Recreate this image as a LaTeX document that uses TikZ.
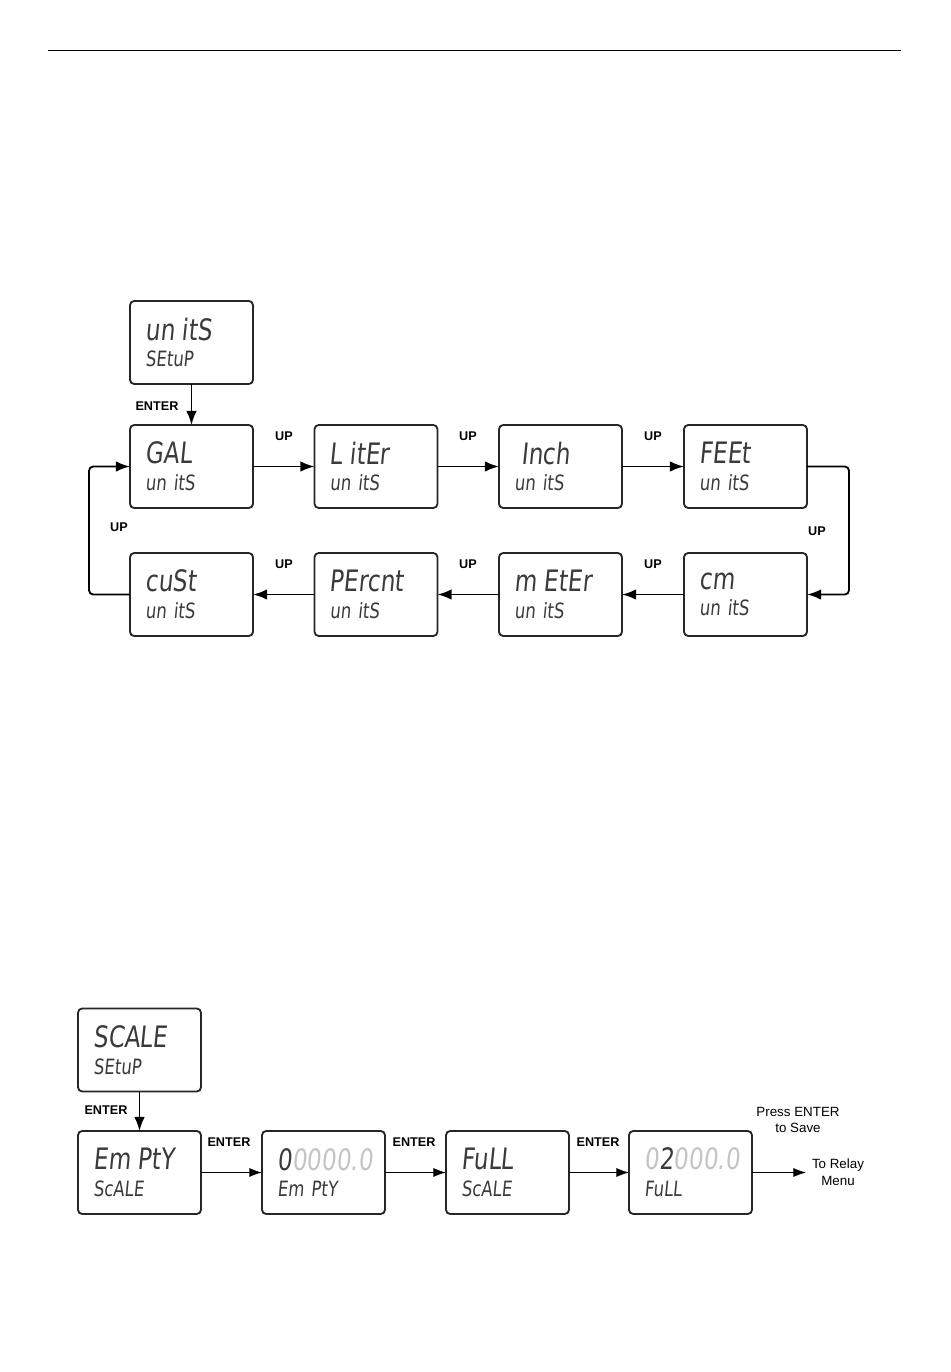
\documentclass[tikz,border=0pt]{standalone}
\usepackage{fontspec}
\setmainfont{Liberation Sans}
\newfontfamily\lcdfont[FakeSlant=0.1,FakeStretch=0.78]{DejaVu Sans}
\usetikzlibrary{arrows.meta}
\definecolor{segon}{HTML}{3A3A3A}
\definecolor{segoff}{HTML}{C4C4C4}
\newcommand{\lcd}[2]{{\fontsize{21}{21}\selectfont #1}\\{\fontsize{15}{19}\selectfont #2}}
\newcommand{\off}[1]{\textcolor{segoff}{#1}}

\begin{document}
\begin{tikzpicture}[x=0.025cm,y=-0.025cm,inner sep=0pt,outer sep=0pt,
dispbox/.style={draw=black!85,line width=1.3pt,rounded corners=3pt,minimum width=3.075cm,minimum height=2.075cm,text width=2.3cm,inner xsep=0.3875cm,align=left,text=segon,font=\lcdfont\fontsize{15}{19}\selectfont},
keylabel/.style={font=\bfseries\fontsize{9}{10}\selectfont},
note/.style={align=center,font=\fontsize{9.5}{12}\selectfont},
flow/.style={-{Latex[length=10pt,width=7.5pt]},line width=1.3pt,rounded corners=3pt},
thinflow/.style={-{Latex[length=9pt,width=6.5pt]},line width=0.7pt}]
\useasboundingbox (0,0) rectangle (950,1372);
\draw[line width=0.7pt] (48,50) -- (901,50);
% units menu
\draw (191.5,342.5) node[dispbox] (UnitsSetup) {\lcd{un itS}{SEtuP}};
\draw (191.5,466.5) node[dispbox] (Gal) {\lcd{GAL}{un itS}};
\draw (376,466.5) node[dispbox] (Liter) {\lcd{L itEr}{un itS}};
\draw (560.5,466.5) node[dispbox] (Inch) {\lcd{~Inch}{un itS}};
\draw (745.5,466.5) node[dispbox] (Feet) {\lcd{FEEt}{un itS}};
\draw (745.5,594.5) node[dispbox] (Cm) {\lcd{cm}{un itS}};
\draw (560.5,594.5) node[dispbox] (Meter) {\lcd{m EtEr}{un itS}};
\draw (376,594.5) node[dispbox] (Percent) {\lcd{PErcnt}{un itS}};
\draw (191.5,594.5) node[dispbox] (Cust) {\lcd{cuSt}{un itS}};
\draw[flow] (UnitsSetup) -- (Gal);
\draw[flow] (Gal) -- (Liter);
\draw[flow] (Liter) -- (Inch);
\draw[flow] (Inch) -- (Feet);
\draw[flow] (Feet.east) -- ++(42,0) |- (Cm.east);
\draw[flow] (Cm) -- (Meter);
\draw[flow] (Meter) -- (Percent);
\draw[flow] (Percent) -- (Cust);
\draw[flow] (Cust.west) -- ++(-41,0) |- (Gal.west);
\node[keylabel] (EnterA) at (157,406) {ENTER};
\node[keylabel] (UpA) at (284,436) {UP};
\node[keylabel] (UpB) at (468,436) {UP};
\node[keylabel] (UpC) at (653,436) {UP};
\node[keylabel] (UpD) at (817,531) {UP};
\node[keylabel] (UpE) at (653,564) {UP};
\node[keylabel] (UpF) at (468,564) {UP};
\node[keylabel] (UpG) at (284,564) {UP};
\node[keylabel] (UpH) at (119,527) {UP};
% scale menu
\draw (139.5,1050) node[dispbox] (ScaleSetup) {\lcd{SCALE}{SEtuP}};
\draw (139.5,1172.5) node[dispbox] (EmptyScale) {\lcd{Em PtY}{ScALE}};
\draw (323.5,1172.5) node[dispbox] (EmptyVal) {\lcd{0\off{0000.0}}{Em PtY}};
\draw (507.5,1172.5) node[dispbox] (FullScale) {\lcd{FuLL}{ScALE}};
\draw (690.5,1172.5) node[dispbox] (FullVal) {\lcd{\off{0}2\off{000.0}}{FuLL}};
\coordinate (Relay) at (806,1172.5);
\draw[flow] (ScaleSetup) -- (EmptyScale);
\draw[thinflow] (EmptyScale) -- (EmptyVal);
\draw[thinflow] (EmptyVal) -- (FullScale);
\draw[thinflow] (FullScale) -- (FullVal);
\draw[thinflow] (FullVal) -- (Relay);
\node[keylabel] (EnterB) at (106,1110) {ENTER};
\node[keylabel] (EnterC) at (229,1142) {ENTER};
\node[keylabel] (EnterD) at (414,1142) {ENTER};
\node[keylabel] (EnterE) at (598,1142) {ENTER};
\node[note] (Save) at (798,1120) {Press ENTER\\to Save};
\node[note] (RelayMenu) at (838,1172) {To Relay\\Menu};
\end{tikzpicture}
\end{document}
